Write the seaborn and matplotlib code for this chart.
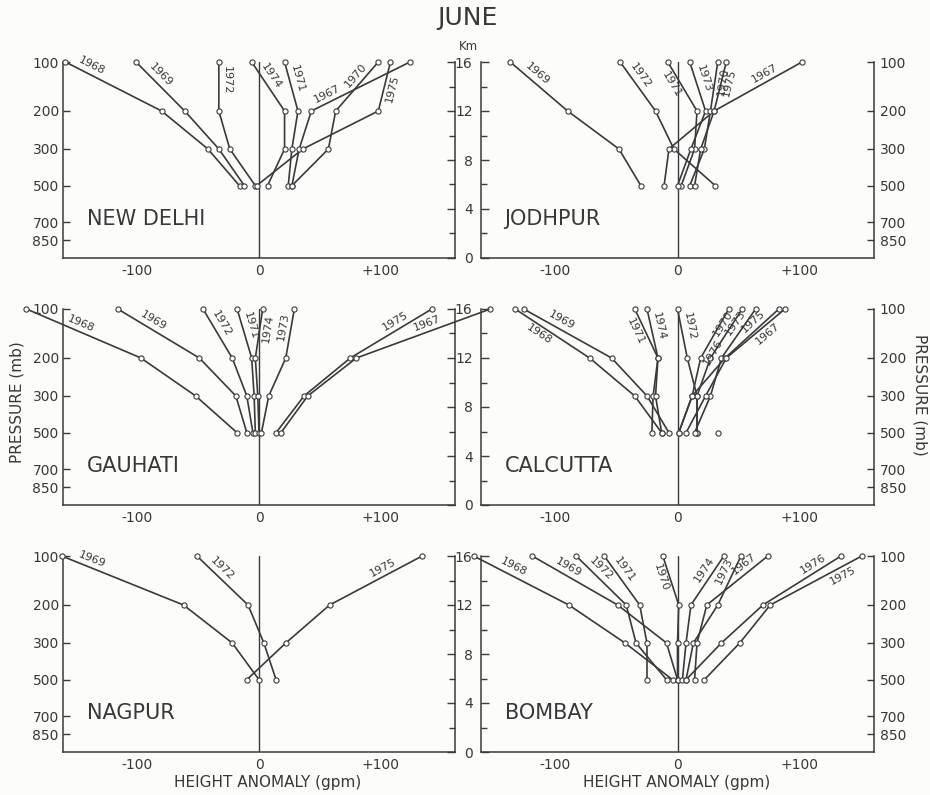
import math
import numpy as np
import pandas as pd
import matplotlib
matplotlib.use("Agg")
import matplotlib.pyplot as plt
import seaborn as sns

sns.set_theme(style="white")
plt.rcParams["font.family"] = ["DejaVu Sans"]

# ---------------- data ----------------
TITLE = "JUNE"
LEVELS_MB = [500, 300, 200, 100]
PRESSURE_TICKS = [100, 200, 300, 500, 700, 850]
PRESSURE_KM = [16.0, 12.0, 8.9, 5.9, 2.9, 1.45]   # pressure level -> height (km) on the axis
KM_MAJOR = [0, 4, 8, 12, 16]
KM_MINOR = [2, 6, 10, 14]
X_LABEL_TICKS = [-100, 0, 100]
X_LABELS = ["-100", "0", "+100"]
X_MINOR = [-140, -120, -80, -60, -40, -20, 20, 40, 60, 80, 120, 140]

# height anomaly (gpm) at 500, 300, 200, 100 mb
NEW_DELHI = {
    "1968": [-16, -42, -80, -159],
    "1969": [-12, -33, -61, -101],
    "1972": [-3, -24, -33, -33],
    "1974": [7, 21, 21, -6],
    "1971": [24, 27, 32, 21],
    "1967": [27, 33, 43, 124],
    "1970": [27, 57, 63, 98],
    "1975": [-2, 36, 98, 108],
}
JODHPUR = {
    "1969": [-30, -48, -90, -137],
    "1972": [31, -3, -18, -47],
    "1971": [3, 14, 16, -8],
    "1973": [0, 11, 23, 10],
    "1970": [10, 22, 27, 33],
    "1975": [14, 19, 30, 40],
    "1967": [-11, -7, 30, 102],
}
GAUHATI = {
    "1968": [-18, -52, -97, -191],
    "1969": [-10, -19, -49, -116],
    "1972": [-5, -10, -22, -46],
    "1971": [-3, -4, -6, -18],
    "1974": [0, -1, -3, 3],
    "1973": [2, 8, 22, 29],
    "1975": [14, 37, 75, 142],
    "1967": [18, 40, 80, 190],
}
CALCUTTA = {
    "1969": [-7, -25, -54, -126],
    "1968": [-13, -35, -72, -133],
    "1971": [-21, -20, -16, -35],
    "1974": [-13, -18, -16, -25],
    "1972": [16, 16, 8, 0],
    "1976": [1, 12, 19, 42],
    "1970": [16, 16, 27, 53],
    "1973": [14, 27, 36, 64],
    "1975": [1, 12, 39, 83],
    "1967": [7, 23, 40, 88],
}
CALCUTTA_LONE_500 = [33]
NAGPUR = {
    "1969": [0, -22, -62, -162],
    "1972": [14, 4, -9, -51],
    "1975": [-10, 22, 58, 134],
}
BOMBAY = {
    "1968": [-4, -43, -89, -167],
    "1969": [0, -9, -49, -119],
    "1972": [-9, -34, -42, -83],
    "1971": [-25, -25, -31, -60],
    "1970": [0, 0, 1, -12],
    "1974": [4, 7, 11, 38],
    "1973": [7, 13, 33, 52],
    "1967": [14, 16, 24, 74],
    "1976": [7, 36, 70, 134],
    "1975": [22, 51, 76, 151],
}
STATIONS = [("NEW DELHI", NEW_DELHI), ("JODHPUR", JODHPUR),
            ("GAUHATI", GAUHATI), ("CALCUTTA", CALCUTTA),
            ("NAGPUR", NAGPUR), ("BOMBAY", BOMBAY)]

# label placement tweaks (fraction along the 100->200 mb segment, side of line)
LABEL_T = {("NEW DELHI", "1968"): 0.23, ("NEW DELHI", "1967"): 0.8,
           ("NEW DELHI", "1975"): 0.5, ("GAUHATI", "1968"): 0.45,
           ("GAUHATI", "1967"): 0.45, ("GAUHATI", "1975"): 0.4,
           ("CALCUTTA", "1976"): 0.8, ("NAGPUR", "1969"): 0.22,
           ("BOMBAY", "1975"): 0.25, ("BOMBAY", "1967"): 0.3,
           ("BOMBAY", "1976"): 0.3}
LABEL_SIDE = {("NEW DELHI", "1975"): -1, ("JODHPUR", "1971"): -1,
              ("JODHPUR", "1970"): -1, ("JODHPUR", "1975"): -1,
              ("GAUHATI", "1974"): -1, ("CALCUTTA", "1968"): -1,
              ("CALCUTTA", "1971"): -1, ("CALCUTTA", "1976"): -1,
              ("CALCUTTA", "1967"): -1, ("BOMBAY", "1970"): -1,
              ("BOMBAY", "1975"): -1}

# ---------------- style ----------------
INK = "#3a3a3a"
TXT = "#383838"
BG = "#fcfcfb"
W, H = 930, 795
ROW_TOP = [62, 309, 556]
ROW_H = 196
COL_X = [(63, 455), (481, 874)]

lvl_km = dict(zip(PRESSURE_TICKS, PRESSURE_KM))

fig = plt.figure(figsize=(W / 100, H / 100), dpi=100)
fig.patch.set_facecolor(BG)


def frame(d):
    rows = []
    for yr, vals in d.items():
        for lv, v in zip(LEVELS_MB, vals):
            rows.append({"year": yr, "mb": lv, "km": lvl_km[lv], "anom": v})
    return pd.DataFrame(rows)


for i, (name, data) in enumerate(STATIONS):
    r, c = divmod(i, 2)
    x0, x1 = COL_X[c]
    top = ROW_TOP[r]
    ax = fig.add_axes([x0 / W, 1 - (top + ROW_H) / H, (x1 - x0) / W, ROW_H / H])
    ax.set_facecolor("none")
    ax.set_xlim(-161, 161)
    ax.set_ylim(0, 16)

    df = frame(data)
    ax.axvline(0, ymin=0, ymax=1, color=INK, lw=1.0, zorder=1)
    sns.lineplot(data=df, x="anom", y="km", units="year", estimator=None,
                 sort=False, color=INK, lw=1.2, ax=ax, legend=False,
                 clip_on=False, zorder=2)
    sns.scatterplot(data=df, x="anom", y="km", ax=ax, s=14, color="white",
                    edgecolor=INK, linewidth=0.8, zorder=4, legend=False,
                    clip_on=False)
    if name == "CALCUTTA":
        lone = pd.DataFrame({"anom": CALCUTTA_LONE_500,
                             "km": [lvl_km[500]] * len(CALCUTTA_LONE_500)})
        sns.scatterplot(data=lone, x="anom", y="km", ax=ax, s=14, color="white",
                        edgecolor=INK, linewidth=0.8, zorder=4, legend=False)
    ax.set_xlabel("")
    ax.set_ylabel("")

    ax.spines["top"].set_visible(False)
    for s in ["left", "right", "bottom"]:
        ax.spines[s].set_color(INK)
        ax.spines[s].set_linewidth(1.1)

    ax.set_xticks(X_LABEL_TICKS, X_LABELS)
    ax.set_xticks(X_MINOR, minor=True)
    ax.tick_params(axis="x", which="major", direction="in", length=7, width=1,
                   color=INK, labelcolor=TXT, labelsize=10, pad=4)
    ax.tick_params(axis="x", which="minor", direction="in", length=4, width=1,
                   color=INK)

    plabels = [str(p) for p in PRESSURE_TICKS]
    if c == 0:
        ax.set_yticks(PRESSURE_KM, plabels)
        ax.tick_params(axis="y", which="major", direction="in", length=5, width=1,
                       color=INK, labelcolor=TXT, labelsize=10, pad=3,
                       left=True, right=False, labelleft=True)
        ax.spines["right"].set_visible(False)
        sec = ax.secondary_yaxis("right")
        sec.set_yticks(KM_MAJOR)
        sec.set_yticks(KM_MINOR, minor=True)
        sec.tick_params(axis="y", which="major", direction="in", length=6, width=1,
                        color=INK, labelright=False)
        sec.tick_params(axis="y", which="minor", direction="in", length=4, width=1,
                        color=INK)
        sec.spines["right"].set_color(INK)
        sec.spines["right"].set_linewidth(1.1)
    else:
        ax.yaxis.tick_right()
        ax.set_yticks(PRESSURE_KM, plabels)
        ax.tick_params(axis="y", which="major", direction="in", length=5, width=1,
                       color=INK, labelcolor=TXT, labelsize=10, pad=4,
                       left=False, right=True, labelright=True, labelleft=False)
        ax.spines["left"].set_visible(False)
        sec = ax.secondary_yaxis("left")
        sec.set_yticks(KM_MAJOR, [str(k) for k in KM_MAJOR])
        sec.set_yticks(KM_MINOR, minor=True)
        sec.tick_params(axis="y", which="major", direction="in", length=6, width=1,
                        color=INK, labelcolor=TXT, labelsize=10, pad=6)
        sec.tick_params(axis="y", which="minor", direction="in", length=4, width=1,
                        color=INK)
        sec.spines["left"].set_color(INK)
        sec.spines["left"].set_linewidth(1.1)

    ax.text(0.06, 0.2, name, transform=ax.transAxes, fontsize=15, color=TXT,
            ha="left", va="center")

    # year labels along the upper segment of each profile
    for yr, vals in data.items():
        p1 = ax.transData.transform((vals[3], lvl_km[100]))
        p2 = ax.transData.transform((vals[2], lvl_km[200]))
        t = LABEL_T.get((name, yr), 0.38)
        pos = p1 + t * (p2 - p1)
        d = p2 - p1
        if d[0] < 0:
            d = -d
        ang = math.degrees(math.atan2(d[1], d[0]))
        side = LABEL_SIDE.get((name, yr), 1)
        off = 6.0 * side
        nx = off * math.cos(math.radians(ang + 90))
        ny = off * math.sin(math.radians(ang + 90))
        xy = ax.transData.inverted().transform(pos)
        ax.annotate(yr, xy=xy, xytext=(nx, ny), textcoords="offset points",
                    rotation=ang, rotation_mode="anchor", ha="center",
                    va="center", fontsize=8, color=TXT, annotation_clip=False,
                    zorder=5)

# figure-level text
fig.text(467 / W, 1 - 18 / H, TITLE, fontsize=18, color=TXT, ha="center", va="center")
fig.text(468 / W, 1 - 47 / H, "Km", fontsize=8.5, color=TXT, ha="center", va="center")
fig.text(17 / W, 1 - 402 / H, "PRESSURE (mb)", fontsize=11, color=TXT,
         rotation=90, ha="center", va="center")
fig.text(920 / W, 1 - 395 / H, "PRESSURE (mb)", fontsize=11, color=TXT,
         rotation=-90, ha="center", va="center")
fig.text(268 / W, 1 - 783 / H, "HEIGHT ANOMALY (gpm)", fontsize=11, color=TXT,
         ha="center", va="center")
fig.text(677 / W, 1 - 783 / H, "HEIGHT ANOMALY (gpm)", fontsize=11, color=TXT,
         ha="center", va="center")

fig.savefig("out.png", dpi=100, facecolor=BG)
